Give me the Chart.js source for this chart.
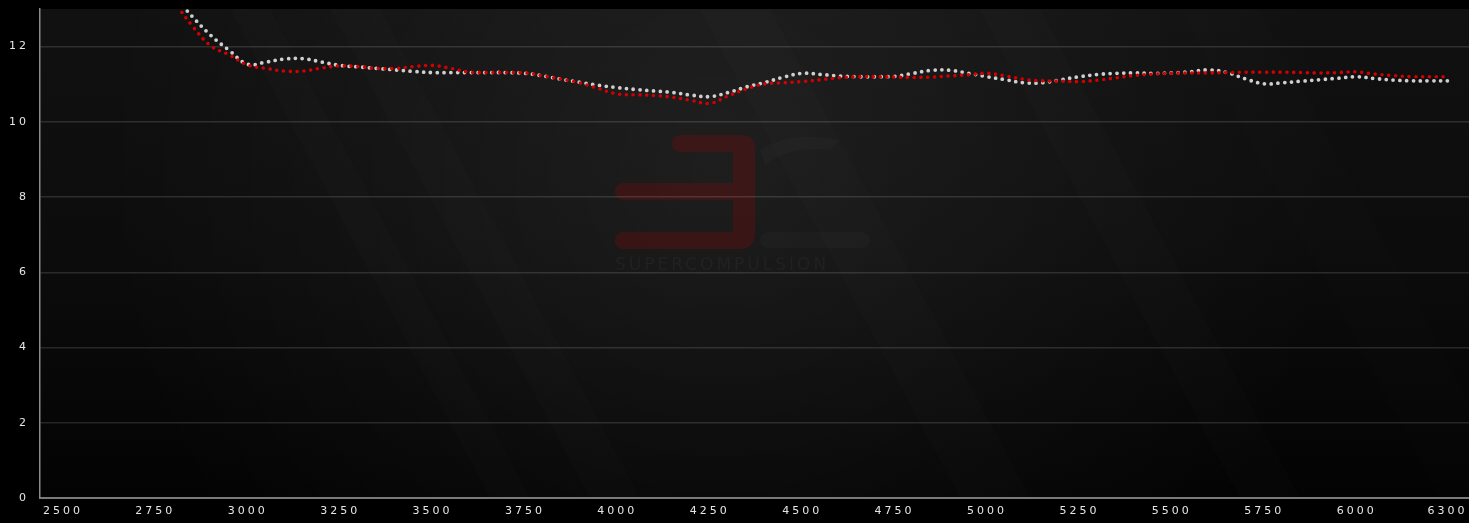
<!DOCTYPE html>
<html>
<head>
<meta charset="utf-8">
<script src="https://cdn.jsdelivr.net/npm/chart.js@4.4.1/dist/chart.umd.min.js"></script>
<style>
  html, body { margin: 0; padding: 0; background: #000; }
  #wrap { width: 1469px; height: 523px; position: relative; }
</style>
</head>
<body>
<div id="wrap"><canvas id="c"></canvas></div>
<script>
// ---- data ----
const rpm = [2800, 2850, 2900, 2950, 3000, 3050, 3100, 3150, 3200, 3250, 3300, 3350, 3400, 3450, 3500,
  3550, 3600, 3650, 3700, 3750, 3800, 3850, 3900, 3950, 4000, 4050, 4100, 4150, 4200, 4250,
  4300, 4350, 4400, 4450, 4500, 4550, 4600, 4650, 4700, 4750, 4800, 4850, 4900, 4950, 5000,
  5050, 5100, 5150, 5200, 5250, 5300, 5350, 5400, 5450, 5500, 5550, 5600, 5650, 5700, 5750,
  5800, 5850, 5900, 5950, 6000, 6050, 6100, 6150, 6200, 6250];

const redSeries = [13.2, 12.55, 12.02, 11.78, 11.51, 11.42, 11.35, 11.35, 11.43, 11.49, 11.47, 11.42, 11.42, 11.47, 11.50,
  11.42, 11.32, 11.31, 11.31, 11.30, 11.22, 11.13, 11.03, 10.88, 10.74, 10.72, 10.70, 10.65, 10.57, 10.49,
  10.69, 10.88, 11.01, 11.04, 11.07, 11.12, 11.17, 11.20, 11.20, 11.19, 11.18, 11.19, 11.22, 11.25, 11.29,
  11.22, 11.13, 11.09, 11.08, 11.07, 11.11, 11.17, 11.23, 11.27, 11.29, 11.30, 11.30, 11.31, 11.32, 11.32,
  11.32, 11.31, 11.30, 11.31, 11.33, 11.27, 11.23, 11.20, 11.20, 11.20];

const whiteSeries = [13.35, 12.8, 12.3, 11.9, 11.53, 11.59, 11.67, 11.68, 11.59, 11.50, 11.46, 11.42, 11.38, 11.34, 11.31,
  11.31, 11.31, 11.31, 11.31, 11.29, 11.22, 11.13, 11.05, 10.97, 10.91, 10.86, 10.82, 10.78, 10.71, 10.67,
  10.78, 10.93, 11.05, 11.19, 11.29, 11.26, 11.22, 11.20, 11.20, 11.21, 11.29, 11.37, 11.37, 11.29, 11.20,
  11.12, 11.04, 11.04, 11.12, 11.20, 11.26, 11.29, 11.30, 11.29, 11.30, 11.33, 11.38, 11.31, 11.14, 11.01,
  11.04, 11.08, 11.12, 11.16, 11.20, 11.15, 11.11, 11.09, 11.09, 11.09];

const xTickLabels = [2500, 2750, 3000, 3250, 3500, 3750, 4000, 4250, 4500, 4750, 5000, 5250, 5500, 5750, 6000, 6300];
const xMin = 2438, xMax = 6304;
const yMin = 0, yMax = 13, yStep = 2;

// ---- plugins ----
const LS = '3px';
const spacing = {
  id: 'spacing',
  beforeLayout(chart) { chart.ctx.letterSpacing = LS; },
  beforeDraw(chart) { chart.ctx.letterSpacing = LS; }
};

const backdrop = {
  id: 'backdrop',
  beforeDraw(chart) {
    const ctx = chart.ctx, a = chart.chartArea;
    ctx.save();
    ctx.letterSpacing = '0px';
    ctx.fillStyle = '#000';
    ctx.fillRect(0, 0, chart.width, chart.height);
    const W = a.right - a.left, H = a.bottom - a.top;
    let g = ctx.createLinearGradient(0, a.top, 0, a.bottom);
    g.addColorStop(0, '#111111');
    g.addColorStop(0.5, '#0c0c0c');
    g.addColorStop(1, '#030303');
    ctx.fillStyle = g;
    ctx.fillRect(a.left, a.top, W, H);
    let r = ctx.createRadialGradient(720, 170, 10, 720, 170, 620);
    r.addColorStop(0, 'rgba(255,255,255,0.065)');
    r.addColorStop(0.6, 'rgba(255,255,255,0.025)');
    r.addColorStop(1, 'rgba(255,255,255,0)');
    ctx.fillStyle = r;
    ctx.fillRect(a.left, a.top, W, H);
    ctx.beginPath();
    ctx.rect(a.left, a.top, W, H);
    ctx.clip();
    const streaks = [[230, 40, 0.012], [330, 50, 0.012], [700, 70, 0.01], [980, 60, 0.01], [1180, 80, 0.008]];
    streaks.forEach(([x0, w, al]) => {
      ctx.fillStyle = 'rgba(255,255,255,' + al + ')';
      ctx.beginPath();
      ctx.moveTo(x0, a.top);
      ctx.lineTo(x0 + w, a.top);
      ctx.lineTo(x0 + w + 260, a.bottom);
      ctx.lineTo(x0 + 260, a.bottom);
      ctx.closePath();
      ctx.fill();
    });
    // watermark
    ctx.fillStyle = 'rgba(130,10,10,0.30)';
    const rr = (x, y, w, h, rad) => { ctx.beginPath(); ctx.roundRect(x, y, w, h, rad); ctx.fill(); };
    rr(672, 135, 83, 17, [8, 12, 0, 8]);
    rr(733, 152, 22, 80, 0);
    rr(615, 183, 118, 17, [8, 0, 0, 8]);
    rr(615, 232, 140, 17, [8, 0, 14, 8]);
    ctx.fillStyle = 'rgba(255,255,255,0.02)';
    rr(760, 232, 110, 16, 8);
    ctx.beginPath();
    ctx.moveTo(760, 150);
    ctx.quadraticCurveTo(790, 130, 840, 140);
    ctx.lineTo(830, 150);
    ctx.quadraticCurveTo(790, 145, 765, 165);
    ctx.closePath();
    ctx.fill();
    ctx.fillStyle = 'rgba(255,255,255,0.035)';
    ctx.font = '17px "DejaVu Sans"';
    ctx.letterSpacing = '3px';
    ctx.textBaseline = 'top';
    ctx.fillText('SUPERCOMPULSION', 615, 257);
    ctx.restore();
  }
};

const ctx = document.getElementById('c');
new Chart(ctx, {
  type: 'line',
  data: {
    datasets: [
      {
        label: 'Run A',
        data: rpm.map((x, i) => ({ x, y: redSeries[i] })),
        borderColor: '#d30000',
        borderWidth: 3.6,
        borderDash: [0, 6.8],
        borderCapStyle: 'round',
        pointRadius: 0,
        tension: 0.4,
        fill: false
      },
      {
        label: 'Run B',
        data: rpm.map((x, i) => ({ x, y: whiteSeries[i] })),
        borderColor: '#cfcfcf',
        borderWidth: 3.8,
        borderDash: [0, 6.8],
        borderCapStyle: 'round',
        pointRadius: 0,
        tension: 0.4,
        fill: false
      }
    ]
  },
  options: {
    responsive: true,
    maintainAspectRatio: false,
    animation: false,
    layout: { padding: { top: 9, left: 0, right: 0, bottom: 0 } },
    plugins: { legend: { display: false }, tooltip: { enabled: false } },
    scales: {
      x: {
        type: 'linear',
        min: xMin,
        max: xMax,
        afterBuildTicks(scale) {
          scale.ticks = [{ value: xMin }].concat(xTickLabels.map(v => ({ value: v })));
        },
        afterFit(scale) { scale.height = 25; scale.paddingLeft = 0; scale.paddingRight = 0; },
        grid: { display: false, drawTicks: false },
        border: { display: true, color: '#7a7a7a', width: 2 },
        ticks: {
          align: 'inner',
          padding: 7,
          color: '#e6e6e6',
          font: { family: 'DejaVu Sans', size: 11 },
          maxRotation: 0,
          autoSkip: false,
          callback: (v) => (v === xMin ? '' : String(v))
        }
      },
      y: {
        type: 'linear',
        min: yMin,
        max: yMax,
        afterFit(scale) { scale.width = 40; scale.paddingTop = 0; scale.paddingBottom = 0; },
        grid: { color: 'rgba(255,255,255,0.13)', lineWidth: 1.5, drawTicks: false },
        border: { display: true, color: '#8a8a8a', width: 1.5 },
        ticks: {
          stepSize: yStep,
          includeBounds: false,
          padding: 11,
          color: '#e6e6e6',
          font: { family: 'DejaVu Sans', size: 11 }
        }
      }
    }
  },
  plugins: [spacing, backdrop]
});
</script>
</body>
</html>
